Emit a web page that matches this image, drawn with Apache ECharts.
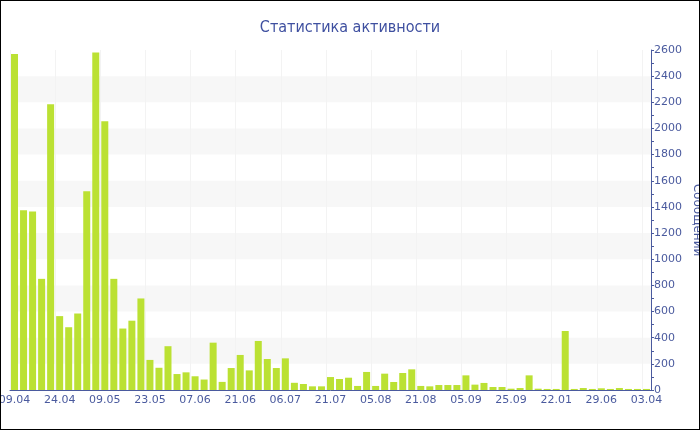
<!DOCTYPE html>
<html>
<head>
<meta charset="utf-8">
<script src="https://cdn.jsdelivr.net/npm/echarts@6/dist/echarts.min.js"></script>
<style>
html,body{margin:0;padding:0;background:#fff;}
#chart{width:700px;height:430px;box-sizing:border-box;border:1px solid #000;}
</style>
</head>
<body>
<div id="chart"></div>
<script>
const titleText = 'Статистика активности';
const yName = 'Сообщений';
const dates = [
  '09.04','12.04','15.04','18.04','21.04',
  '24.04','27.04','30.04','03.05','06.05',
  '09.05','12.05','15.05','18.05','20.05',
  '23.05','26.05','29.05','01.06','04.06',
  '07.06','10.06','13.06','16.06','18.06',
  '21.06','24.06','27.06','30.06','03.07',
  '06.07','09.07','12.07','15.07','18.07',
  '21.07','24.07','27.07','30.07','02.08',
  '05.08','08.08','11.08','14.08','17.08',
  '21.08','24.08','27.08','30.08','02.09',
  '05.09','09.09','13.09','17.09','21.09',
  '25.09','14.10','11.11','09.12','28.12',
  '22.01','03.03','14.04','05.05','02.06',
  '29.06','14.08','17.10','12.12','10.02',
  '03.04'
];
const messages = [
  2570,1375,1365,850,2185,
  565,480,585,1520,2580,
  2055,850,470,530,700,
  230,170,335,122,135,
  105,80,362,62,168,
  268,150,375,237,168,
  242,55,46,28,28,
  99,84,94,31,138,
  31,125,61,130,158,
  31,28,38,38,38,
  112,41,54,23,23,
  10,15,112,10,8,
  8,451,8,15,8,
  13,8,15,8,8,
  8
];

const textColor = '#4a5a9e';
const chart = echarts.init(document.getElementById('chart'), null, {renderer:'canvas'});
chart.setOption({
  animation: false,
  backgroundColor: '#fff',
  title: {
    text: titleText,
    left: 'center',
    top: 14,
    textStyle: {color: '#3f50a0', fontSize: 16, fontWeight: 'normal', fontFamily: 'Liberation Sans Narrow, DejaVu Sans Condensed, sans-serif'}
  },
  grid: {left: 9, right: 48, top: 49, bottom: 39, containLabel: false, outerBoundsMode: 'none'},
  xAxis: {
    type: 'category',
    data: dates,
    boundaryGap: true,
    axisLine: {lineStyle: {color: '#4a5a9e', width: 1}},
    axisTick: {alignWithLabel: true, interval: 4, length: 4, lineStyle: {color: '#4a5a9e'}},
    axisLabel: {interval: 4, color: textColor, fontSize: 11, fontFamily: 'DejaVu Sans, Verdana, sans-serif', margin: 5, hideOverlap: false},
    splitLine: {show: true, interval: 4, lineStyle: {color: '#f3f3f3', width: 1, type: 'solid'}}
  },
  yAxis: {
    type: 'value',
    position: 'right',
    min: 0,
    max: 2600,
    interval: 200,
    name: yName,
    nameLocation: 'middle',
    nameRotate: -90,
    nameGap: 40,
    nameMoveOverlap: false,
    nameTextStyle: {color: textColor, fontSize: 12, fontFamily: 'DejaVu Sans, Verdana, sans-serif'},
    axisLine: {show: true, lineStyle: {color: '#4a5a9e'}},
    axisTick: {show: true, inside: false, length: 3, lineStyle: {color: '#4a5a9e'}},
    minorTick: {show: true, splitNumber: 2, length: 3, lineStyle: {color: '#4a5a9e'}},
    axisLabel: {color: textColor, fontSize: 11, fontFamily: 'DejaVu Sans, Verdana, sans-serif', margin: 3, formatter: function (v) { return String(v); }},
    splitLine: {show: false},
    splitArea: {show: true, areaStyle: {color: ['rgba(255,255,255,0)', '#f7f7f7']}}
  },
  series: [{
    type: 'bar',
    data: messages,
    barWidth: 7,
    itemStyle: {color: '#bbe133'}
  }]
});
</script>
</body>
</html>
